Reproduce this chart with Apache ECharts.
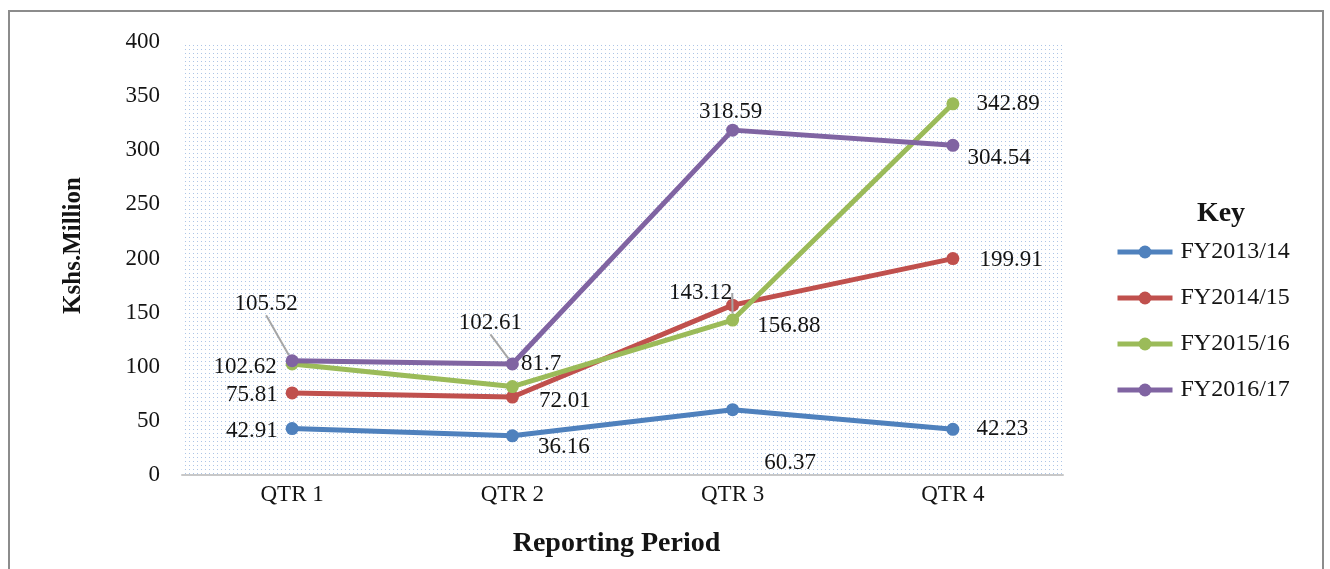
<!DOCTYPE html>
<html>
<head>
    <meta charset="utf-8">
    <title>Reporting Period</title>
    <script src="https://cdn.jsdelivr.net/npm/echarts@6/dist/echarts.min.js"></script>
    <style>
        html, body { margin: 0; padding: 0; background: #fff; }
        #main { width: 1330px; height: 569px; }
        .frame {
            position: absolute; left: 8px; top: 10px; width: 1312px; height: 600px;
            border: 2px solid #8c8c8c; pointer-events: none;
        }
    </style>
</head>
<body>
    <div id="main"></div>
    <div class="frame"></div>
    <script type="text/javascript">
        var quarters = ['QTR 1', 'QTR 2', 'QTR 3', 'QTR 4'];
        var seriesNames = ['FY2013/14', 'FY2014/15', 'FY2015/16', 'FY2016/17'];
        var fy1314 = [42.91, 36.16, 60.37, 42.23];
        var fy1415 = [75.81, 72.01, 156.88, 199.91];
        var fy1516 = [102.62, 81.7, 143.12, 342.89];
        var fy1617 = [105.52, 102.61, 318.59, 304.54];
        var colors = ['#4f81bd', '#c0504d', '#9bbb59', '#8064a2'];

        // label placement per point: [position, dx, dy]
        var labelPlace = [
            [['left', -3, 2], ['right', 14, 11], ['right', 20, 53], ['right', 12, 0]],
            [['left', -3, 2], ['right', 15, 4], ['right', 13, 21], ['right', 15, 1]],
            [['left', -4, 3], ['right', -3, -23], ['top', -32, -4], ['right', 12, 0]],
            [['top', -26, -34], ['top', -22, -18], ['top', -2, 5], ['right', 3, 13]]
        ];
        // labels that get a leader line: [series, index]
        var pulled = [[3, 0], [3, 1], [2, 2]];

        // dotted plot background
        var dot = document.createElement('canvas');
        dot.width = 4; dot.height = 4;
        var ctx = dot.getContext('2d');
        ctx.fillStyle = '#ffffff';
        ctx.fillRect(0, 0, 4, 4);
        ctx.fillStyle = '#adc5e6';
        ctx.fillRect(1, 1, 1, 1);

        var font = 'Liberation Serif';
        var ink = '#141414';
        var allData = [fy1314, fy1415, fy1516, fy1617];

        var series = allData.map(function (vals, s) {
            return {
                name: seriesNames[s],
                type: 'line',
                symbol: 'circle',
                symbolSize: 13,
                lineStyle: { width: 5, color: colors[s] },
                itemStyle: { color: colors[s] },
                labelLine: { show: false },
                z: 2 + s,
                data: vals.map(function (v, i) {
                    var isPulled = pulled.some(function (q) { return q[0] === s && q[1] === i; });
                    return {
                        value: v,
                        label: {
                            show: true,
                            position: labelPlace[s][i][0],
                            color: ink,
                            fontFamily: font,
                            fontSize: 23
                        },
                        labelLine: {
                            show: isPulled,
                            length2: 0,
                            lineStyle: { color: '#a6a6a6', width: 2 }
                        }
                    };
                })
            };
        });

        var myChart = echarts.init(document.getElementById('main'));
        myChart.setOption({
            animation: false,
            color: colors,
            title: {
                text: 'Key',
                left: 1216,
                top: 195,
                textAlign: 'center',
                textStyle: { fontFamily: font, fontSize: 28, fontWeight: 'bold', color: ink }
            },
            legend: {
                orient: 'vertical',
                left: 1110,
                top: 235,
                itemWidth: 55,
                itemHeight: 16,
                itemGap: 22,
                data: seriesNames,
                lineStyle: { width: 5 },
                textStyle: { fontFamily: font, fontSize: 24, color: ink, padding: [0, 0, 0, 3] }
            },
            grid: {
                left: 182,
                right: 267,
                top: 42,
                bottom: 94,
                show: true,
                borderWidth: 0,
                backgroundColor: { image: dot, repeat: 'repeat' }
            },
            xAxis: {
                type: 'category',
                data: quarters,
                name: 'Reporting Period',
                nameLocation: 'middle',
                nameGap: 55,
                nameTextStyle: { fontFamily: font, fontSize: 28, fontWeight: 'bold', color: ink, padding: [0, 12, 0, 0] },
                axisLine: { show: true, lineStyle: { color: '#c8c8c8', width: 2 } },
                axisTick: { show: false },
                axisLabel: { margin: 8, fontFamily: font, fontSize: 23, color: ink }
            },
            yAxis: {
                type: 'value',
                min: 0,
                max: 400,
                interval: 50,
                name: 'Kshs.Million',
                nameLocation: 'middle',
                nameRotate: 90,
                nameGap: 96,
                nameTextStyle: { fontFamily: font, fontSize: 25, fontWeight: 'bold', color: ink, padding: [0, 0, 0, 26] },
                axisLine: { show: false },
                axisTick: { show: false },
                splitLine: { show: false },
                axisLabel: { margin: 22, fontFamily: font, fontSize: 23, color: ink }
            },
            labelLayout: function (params) {
                var p = labelPlace[params.seriesIndex][params.dataIndex];
                return { dx: p[1], dy: p[2] };
            },
            series: series
        });
    </script>
</body>
</html>
